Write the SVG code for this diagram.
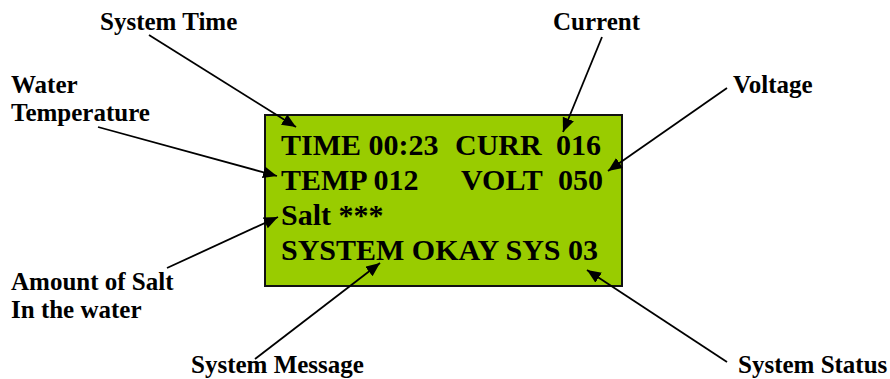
<svg xmlns="http://www.w3.org/2000/svg" width="890" height="379" viewBox="0 0 890 379">
<defs>
<style>
.lbl{font-family:"Liberation Serif","Times New Roman",serif;font-weight:bold;font-size:25px;fill:#000}
.lcd{font-family:"Liberation Serif","Times New Roman",serif;font-weight:bold;font-size:30px;fill:#000}
.arr{stroke:#000;stroke-width:1.8;fill:none;marker-end:url(#ah)}
</style>
<marker id="ah" markerUnits="userSpaceOnUse" markerWidth="16" markerHeight="14" refX="14" refY="6" orient="auto">
<path d="M0,0 L14,6 L0,12 Z" fill="#000"/>
</marker>
</defs>
<rect width="890" height="379" fill="#fff"/>
<g id="lcd">
<rect x="265" y="115" width="357" height="171" fill="#99CC00" stroke="#111" stroke-width="2"/>
<text class="lcd" x="281" y="155">TIME 00:23</text>
<text class="lcd" x="455" y="155">CURR</text>
<text class="lcd" x="556" y="155">016</text>
<text class="lcd" x="281" y="190">TEMP 012</text>
<text class="lcd" x="461" y="190">VOLT</text>
<text class="lcd" x="558" y="190">050</text>
<text class="lcd" x="281" y="225">Salt ***</text>
<text class="lcd" x="281" y="260">SYSTEM OKAY SYS 03</text>
</g>
<g id="label-system-time"><text class="lbl" x="100" y="30">System Time</text></g>
<g id="label-water-temp"><text class="lbl" x="11" y="93">Water</text><text class="lbl" x="11" y="121">Temperature</text></g>
<g id="label-current"><text class="lbl" x="553" y="30">Current</text></g>
<g id="label-voltage"><text class="lbl" x="733" y="93">Voltage</text></g>
<g id="label-salt"><text class="lbl" x="11" y="290">Amount of Salt</text><text class="lbl" x="11" y="318">In the water</text></g>
<g id="label-system-message"><text class="lbl" x="191" y="373">System Message</text></g>
<g id="label-system-status"><text class="lbl" x="738" y="373">System Status</text></g>
<g id="connectors">
<line class="arr" x1="149" y1="35" x2="296" y2="127"/>
<line class="arr" x1="98" y1="127" x2="277" y2="176"/>
<line class="arr" x1="602" y1="37" x2="563" y2="132"/>
<line class="arr" x1="727" y1="88" x2="608" y2="171"/>
<line class="arr" x1="167" y1="268" x2="278" y2="217"/>
<line class="arr" x1="255" y1="359" x2="380" y2="263"/>
<line class="arr" x1="727" y1="362" x2="587" y2="270"/>
</g>
</svg>
